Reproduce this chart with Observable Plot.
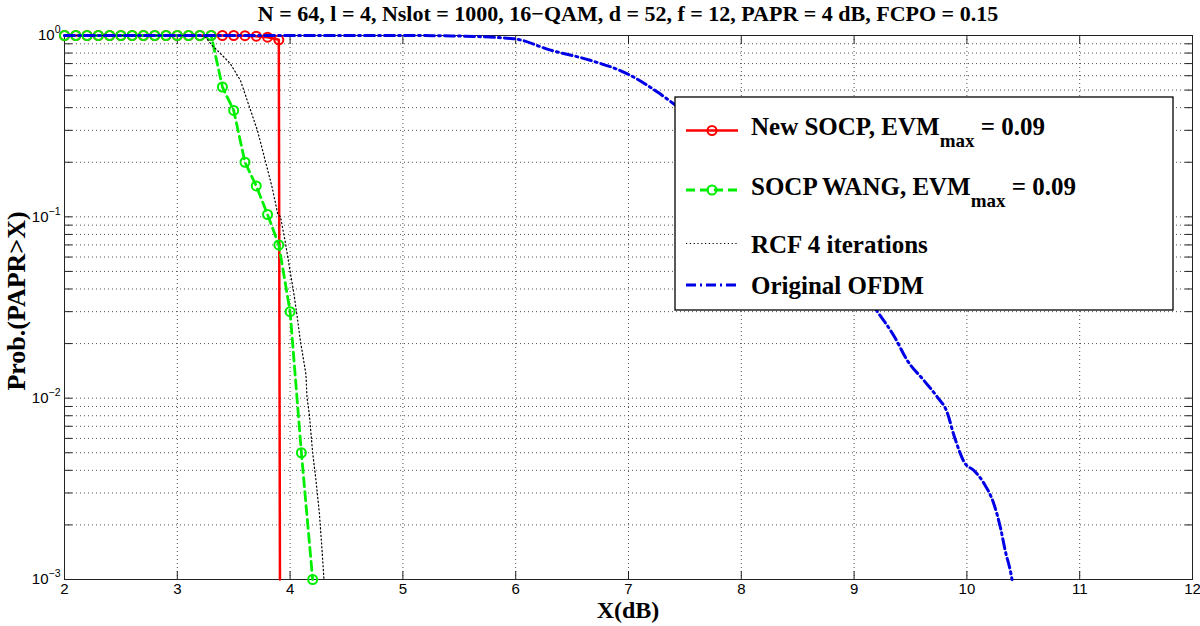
<!DOCTYPE html>
<html><head><meta charset="utf-8">
<script src="https://cdn.jsdelivr.net/npm/d3@7"></script>
<script src="https://cdn.jsdelivr.net/npm/@observablehq/plot@0.6"></script>
<style>
body{margin:0;background:#fff}
#wrap{position:relative;width:1200px;height:626px;overflow:hidden}
#wrap svg{display:block}
#wrap g[aria-label$="tick label"] text{font-size:15px !important;font-family:'Liberation Sans', Arial, Helvetica, sans-serif !important}
#wrap g[aria-label$="tick label"] tspan.sup{font-size:10.5px !important}
</style>
</head><body><div id="wrap"></div>
<script>
// ---------- data ----------
const titleText = "N = 64, l = 4, Nslot = 1000, 16\u2212QAM, d = 52, f = 12, PAPR = 4 dB, FCPO = 0.15";
const xLabel = "X(dB)";
const yLabel = "Prob.(PAPR>X)";

const xTicks = [2,3,4,5,6,7,8,9,10,11,12];
const yMajor = [0.001,0.01,0.1,1];
const yMinor = [0.002,0.003,0.004,0.005,0.006,0.007,0.008,0.009,
                0.02,0.03,0.04,0.05,0.06,0.07,0.08,0.09,
                0.2,0.3,0.4,0.5,0.6,0.7,0.8,0.9];

// New SOCP, EVMmax = 0.09 (markers)
const newX = [2.0,2.1,2.2,2.3,2.4,2.5,2.6,2.7,2.8,2.9,3.0,3.1,3.2,3.3,3.4,3.5,3.6,3.7,3.8,3.9];
const newY = [1,1,1,1,1,1,1,1,1,1,1,1,1,1,1,1,0.998,0.991,0.979,0.947];
// drop of the New SOCP curve below the chart bottom
const newDropX = [3.91];
const newDropY = [0.001];

// SOCP WANG, EVMmax = 0.09
const wangX = [2.0,2.1,2.2,2.3,2.4,2.5,2.6,2.7,2.8,2.9,3.0,3.1,3.2,3.3,3.4,3.5,3.6,3.7,3.8,3.9,4.0,4.1,4.2];
const wangY = [1,1,1,1,1,1,1,1,1,1,1,1,1,1,0.52,0.386,0.20,0.148,0.103,0.070,0.030,0.005,0.001];

// RCF 4 iterations
const rcfX = [2.0,3.2,3.25,3.31,3.37,3.47,3.56,3.63,3.71,3.78,3.84,3.89,3.915,3.96,4.0,4.03,4.06,4.09,4.14,4.15,4.17,4.2,4.23,4.26,4.285,4.3];
const rcfY = [1,1,0.98,0.88,0.81,0.70,0.565,0.42,0.30,0.204,0.146,0.104,0.10,0.071,0.05,0.039,0.029,0.021,0.0136,0.0101,0.0082,0.005,0.0035,0.0023,0.0014,0.001];

// Original OFDM
const ofdmX = [2.0,5.0,5.43,5.98,6.31,6.66,6.99,7.26,7.40,9.21,9.36,9.47,9.62,9.74,9.82,9.89,9.98,10.06,10.15,10.24,10.30,10.34,10.39,10.40];
const ofdmY = [1,1,0.995,0.96,0.83,0.73,0.615,0.486,0.42,0.0298,0.0217,0.0162,0.0125,0.0101,0.0085,0.0061,0.0044,0.0040,0.0034,0.0026,0.0019,0.00144,0.00108,0.001];

const seriesNames = ["New SOCP, EVM", "SOCP WANG, EVM", "RCF 4 iterations", "Original OFDM"];
const evmText = " = 0.09";
const colors = {red:"#ff0000", green:"#00ee00", black:"#000000", blue:"#0000e6"};

// ---------- build ----------
const zip = (xs, ys) => xs.map((x,i) => ({x, y: ys[i]}));
const newPts = zip(newX, newY);
const newLine = newPts.concat(zip(newDropX, newDropY));
const wangPts = zip(wangX, wangY);
const rcf = zip(rcfX, rcfY);
const ofdm = zip(ofdmX, ofdmY);

const W = 1200, H = 626, mL = 64, mR = 8, mT = 35, mB = 47;
const tickFont = 15;
const gridStyle = {stroke:"#333", strokeOpacity:0.85, strokeWidth:1, strokeDasharray:"1,3"};
const tickStyle = {stroke:"#222", tickSize:8, text:null, label:null};

const chart = Plot.plot({
  width: W, height: H,
  marginLeft: mL, marginRight: mR, marginTop: mT, marginBottom: mB,
  style: {background:"white", fontFamily:"'Liberation Sans', Arial, Helvetica, sans-serif", fontSize:tickFont + "px", color:"#000"},
  x: {domain:[2,12], label:null},
  y: {type:"log", domain:[0.001,1], label:null},
  marks: [
    Plot.gridX(xTicks, gridStyle),
    Plot.gridY(yMajor.concat(yMinor), gridStyle),
    Plot.frame({stroke:"#222", strokeWidth:1}),
    Plot.axisX(xTicks, {...tickStyle, anchor:"bottom", dy:-8}),
    Plot.axisX(xTicks, {...tickStyle, anchor:"top", dy:8}),
    Plot.axisY(yMajor.concat(yMinor), {...tickStyle, anchor:"left", dx:8}),
    Plot.axisY(yMajor.concat(yMinor), {...tickStyle, anchor:"right", dx:-8}),
    Plot.axisX(xTicks, {anchor:"bottom", tickSize:0, tickPadding:4, label:null, fontSize:tickFont}),
    Plot.axisY(yMajor, {anchor:"left", tickSize:0, tickPadding:4, label:null, fontSize:tickFont,
      tickFormat: d => "10^" + Math.round(Math.log10(d))}),
    Plot.line(newLine, {x:"x", y:"y", stroke:colors.red, strokeWidth:2.5}),
    Plot.dot(newPts, {x:"x", y:"y", r:4.5, stroke:colors.red, strokeWidth:2, fill:"none"}),
    Plot.line(wangPts, {x:"x", y:"y", stroke:colors.green, strokeWidth:2.8, strokeDasharray:"9,5"}),
    Plot.dot(wangPts, {x:"x", y:"y", r:4.5, stroke:colors.green, strokeWidth:2, fill:"none"}),
    Plot.line(rcf, {x:"x", y:"y", stroke:colors.black, strokeWidth:1.2, strokeDasharray:"1.2,2.6"}),
    Plot.line(ofdm, {x:"x", y:"y", curve:"monotone-x", stroke:colors.blue, strokeWidth:3, strokeDasharray:"10,4,2,4"})
  ]
});
document.getElementById("wrap").appendChild(chart);

// superscript exponents on the y tick labels
d3.select(chart).selectAll('g[aria-label="y-axis tick label"] text').each(function(){
  const t = this.textContent;
  const m = t.match(/^10\^(-?\d+)$/);
  if (!m) return;
  const e = m[1].replace("-", "\u2212");
  const sel = d3.select(this);
  sel.text("10");
  sel.append("tspan").attr("class","sup").attr("dy", -7).text(e);
});

// ---------- overlay: title, axis labels, legend ----------
const serif = "'Liberation Serif', 'Times New Roman', Times, serif";
const ov = d3.select("#wrap").append("svg")
  .attr("width", W).attr("height", H)
  .style("position","absolute").style("left","0").style("top","0")
  .attr("font-family", serif).attr("font-weight","bold");

ov.append("text").attr("x", 628).attr("y", 21).attr("text-anchor","middle")
  .attr("font-size", 22).text(titleText);
ov.append("text").attr("x", 628).attr("y", 618).attr("text-anchor","middle")
  .attr("font-size", 24).text(xLabel);
ov.append("text").attr("transform","translate(25,301) rotate(-90)").attr("text-anchor","middle")
  .attr("font-size", 26).text(yLabel);

// legend
const lg = ov.append("g");
lg.append("rect").attr("x",675).attr("y",97).attr("width",498).attr("height",213)
  .attr("fill","#fff").attr("stroke","#000").attr("stroke-width",1.3);
const rows = [
  {name: seriesNames[0], sub:true, ty:134.5, ly:130.5, stroke:colors.red, dash:null, w:2.5, marker:true},
  {name: seriesNames[1], sub:true, ty:195, ly:190, stroke:colors.green, dash:"9,5", w:2.8, marker:true},
  {name: seriesNames[2], sub:false, ty:252.5, ly:243.5, stroke:colors.black, dash:"1.2,2.6", w:1.2, marker:false},
  {name: seriesNames[3], sub:false, ty:294, ly:285, stroke:colors.blue, dash:"10,4,2,4", w:3, marker:false}
];
rows.forEach(r => {
  lg.append("line").attr("x1",686).attr("x2",738).attr("y1",r.ly).attr("y2",r.ly)
    .attr("stroke", r.stroke).attr("stroke-width", r.w).attr("stroke-dasharray", r.dash);
  if (r.marker) lg.append("circle").attr("cx",712).attr("cy",r.ly).attr("r",4.5)
    .attr("fill","none").attr("stroke",r.stroke).attr("stroke-width",2);
  const t = lg.append("text").attr("x",751).attr("y",r.ty).attr("font-size",25);
  t.append("tspan").text(r.name);
  if (r.sub) {
    t.append("tspan").attr("dy",12).attr("font-size",19).text("max");
    t.append("tspan").attr("dy",-12).text(evmText);
  }
});
</script></body></html>
